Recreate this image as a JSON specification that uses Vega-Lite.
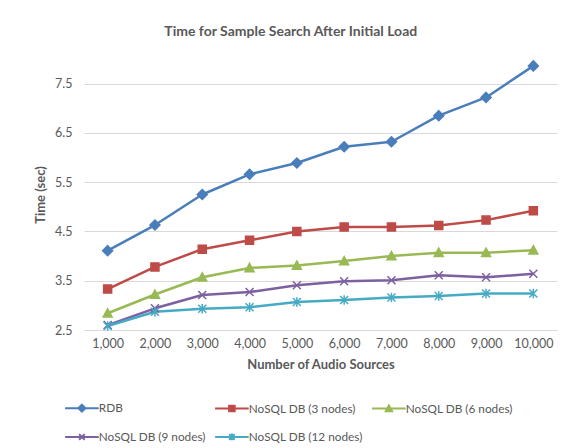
{
  "$schema": "https://vega.github.io/schema/vega-lite/v6.json",
  "width": 473,
  "height": 271,
  "autosize": {"type": "none"},
  "padding": {"left": 84, "top": 59, "right": 18, "bottom": 118},
  "background": "#ffffff",
  "title": {
    "text": "Time for Sample Search After Initial Load",
    "frame": "bounds",
    "anchor": "middle",
    "offset": 19,
    "dx": -5,
    "font": "Lato",
    "fontSize": 14,
    "fontWeight": "bold",
    "color": "#595959"
  },
  "data": {
    "values": [
      {"n": 1000, "series": "RDB", "t": 4.11},
      {"n": 2000, "series": "RDB", "t": 4.63},
      {"n": 3000, "series": "RDB", "t": 5.25},
      {"n": 4000, "series": "RDB", "t": 5.66},
      {"n": 5000, "series": "RDB", "t": 5.89},
      {"n": 6000, "series": "RDB", "t": 6.22},
      {"n": 7000, "series": "RDB", "t": 6.32},
      {"n": 8000, "series": "RDB", "t": 6.85},
      {"n": 9000, "series": "RDB", "t": 7.22},
      {"n": 10000, "series": "RDB", "t": 7.86},
      {"n": 1000, "series": "NoSQL DB (3 nodes)", "t": 3.33},
      {"n": 2000, "series": "NoSQL DB (3 nodes)", "t": 3.78},
      {"n": 3000, "series": "NoSQL DB (3 nodes)", "t": 4.14},
      {"n": 4000, "series": "NoSQL DB (3 nodes)", "t": 4.32},
      {"n": 5000, "series": "NoSQL DB (3 nodes)", "t": 4.5},
      {"n": 6000, "series": "NoSQL DB (3 nodes)", "t": 4.59},
      {"n": 7000, "series": "NoSQL DB (3 nodes)", "t": 4.59},
      {"n": 8000, "series": "NoSQL DB (3 nodes)", "t": 4.62},
      {"n": 9000, "series": "NoSQL DB (3 nodes)", "t": 4.73},
      {"n": 10000, "series": "NoSQL DB (3 nodes)", "t": 4.92},
      {"n": 1000, "series": "NoSQL DB (6 nodes)", "t": 2.84},
      {"n": 2000, "series": "NoSQL DB (6 nodes)", "t": 3.22},
      {"n": 3000, "series": "NoSQL DB (6 nodes)", "t": 3.57},
      {"n": 4000, "series": "NoSQL DB (6 nodes)", "t": 3.76},
      {"n": 5000, "series": "NoSQL DB (6 nodes)", "t": 3.81},
      {"n": 6000, "series": "NoSQL DB (6 nodes)", "t": 3.9},
      {"n": 7000, "series": "NoSQL DB (6 nodes)", "t": 4.0},
      {"n": 8000, "series": "NoSQL DB (6 nodes)", "t": 4.07},
      {"n": 9000, "series": "NoSQL DB (6 nodes)", "t": 4.07},
      {"n": 10000, "series": "NoSQL DB (6 nodes)", "t": 4.12},
      {"n": 1000, "series": "NoSQL DB (9 nodes)", "t": 2.6},
      {"n": 2000, "series": "NoSQL DB (9 nodes)", "t": 2.94},
      {"n": 3000, "series": "NoSQL DB (9 nodes)", "t": 3.21},
      {"n": 4000, "series": "NoSQL DB (9 nodes)", "t": 3.27},
      {"n": 5000, "series": "NoSQL DB (9 nodes)", "t": 3.41},
      {"n": 6000, "series": "NoSQL DB (9 nodes)", "t": 3.49},
      {"n": 7000, "series": "NoSQL DB (9 nodes)", "t": 3.51},
      {"n": 8000, "series": "NoSQL DB (9 nodes)", "t": 3.61},
      {"n": 9000, "series": "NoSQL DB (9 nodes)", "t": 3.57},
      {"n": 10000, "series": "NoSQL DB (9 nodes)", "t": 3.64},
      {"n": 1000, "series": "NoSQL DB (12 nodes)", "t": 2.58},
      {"n": 2000, "series": "NoSQL DB (12 nodes)", "t": 2.87},
      {"n": 3000, "series": "NoSQL DB (12 nodes)", "t": 2.93},
      {"n": 4000, "series": "NoSQL DB (12 nodes)", "t": 2.96},
      {"n": 5000, "series": "NoSQL DB (12 nodes)", "t": 3.07},
      {"n": 6000, "series": "NoSQL DB (12 nodes)", "t": 3.11},
      {"n": 7000, "series": "NoSQL DB (12 nodes)", "t": 3.16},
      {"n": 8000, "series": "NoSQL DB (12 nodes)", "t": 3.19},
      {"n": 9000, "series": "NoSQL DB (12 nodes)", "t": 3.24},
      {"n": 10000, "series": "NoSQL DB (12 nodes)", "t": 3.24}
    ]
  },
  "encoding": {
    "x": {
      "field": "n",
      "type": "ordinal",
      "scale": {"type": "point", "padding": 0.5},
      "axis": {
        "title": "Number of Audio Sources",
        "format": ",",
        "labelAngle": 0,
        "ticks": false,
        "domain": true,
        "domainColor": "#d9d9d9",
        "domainWidth": 1,
        "labelPadding": 7,
        "titlePadding": 9
      }
    },
    "y": {
      "field": "t",
      "type": "quantitative",
      "scale": {"domain": [2.5, 8], "nice": false, "zero": false},
      "axis": {
        "title": "Time (sec)",
        "values": [2.5, 3.5, 4.5, 5.5, 6.5, 7.5],
        "format": ".1f",
        "ticks": false,
        "domain": false,
        "grid": true,
        "gridColor": "#d9d9d9",
        "gridWidth": 1,
        "labelPadding": 12,
        "titlePadding": 7
      }
    },
    "color": {
      "field": "series",
      "type": "nominal",
      "scale": {
        "domain": ["RDB", "NoSQL DB (3 nodes)", "NoSQL DB (6 nodes)", "NoSQL DB (9 nodes)", "NoSQL DB (12 nodes)"],
        "range": ["#4a7ebb", "#be4b48", "#98b954", "#7d60a0", "#46aac5"]
      },
      "legend": {
        "title": null,
        "orient": "none",
        "legendX": -8,
        "legendY": 343,
        "direction": "horizontal",
        "columns": 3,
        "columnPadding": 5,
        "rowPadding": 13,
        "symbolSize": 49,
        "symbolStrokeWidth": 2,
        "labelOffset": 11,
        "labelFont": "Lato",
        "labelFontSize": 11.8,
        "labelColor": "#595959",
        "encode": {
          "symbols": {
            "update": {
              "shape": {"signal": "'M-4.8,0L4.8,0' + scale('shape', datum.value)"},
              "fill": {"scale": "color", "field": "value"},
              "stroke": {"scale": "color", "field": "value"},
              "strokeWidth": {"value": 2}
            }
          }
        }
      }
    }
  },
  "layer": [
    {
      "mark": {"type": "line", "strokeWidth": 2.5, "strokeJoin": "round"}
    },
    {
      "mark": {"type": "point", "filled": true, "opacity": 1, "size": 100, "strokeWidth": 1.5},
      "encoding": {
        "stroke": {
          "field": "series",
          "type": "nominal",
          "scale": {
            "domain": ["NoSQL DB (12 nodes)", "NoSQL DB (9 nodes)", "NoSQL DB (6 nodes)", "NoSQL DB (3 nodes)", "RDB"],
            "range": ["#46aac5", "#7d60a0", "#98b954", "#be4b48", "#4a7ebb"]
          },
          "legend": null
        },
        "shape": {
          "field": "series",
          "type": "nominal",
          "scale": {
            "domain": ["NoSQL DB (12 nodes)", "NoSQL DB (9 nodes)", "NoSQL DB (6 nodes)", "NoSQL DB (3 nodes)", "RDB"],
            "range": [
              "M-0.8,-0.8L0.8,0.8M-0.8,0.8L0.8,-0.8M0,-0.95L0,0.95",
              "M-0.8,-0.8L0.8,0.8M-0.8,0.8L0.8,-0.8",
              "M0,-0.9L0.9,0.75L-0.9,0.75Z",
              "M-0.8,-0.8L0.8,-0.8L0.8,0.8L-0.8,0.8Z",
              "M0,-1L1,0L0,1L-1,0Z"
            ]
          },
          "legend": null
        }
      }
    }
  ],
  "config": {
    "font": "Lato",
    "view": {"stroke": null},
    "axis": {
      "labelFont": "Lato",
      "labelFontSize": 12.5,
      "labelColor": "#595959",
      "titleFont": "Lato",
      "titleFontSize": 13,
      "titleFontWeight": "bold",
      "titleColor": "#595959"
    }
  }
}
